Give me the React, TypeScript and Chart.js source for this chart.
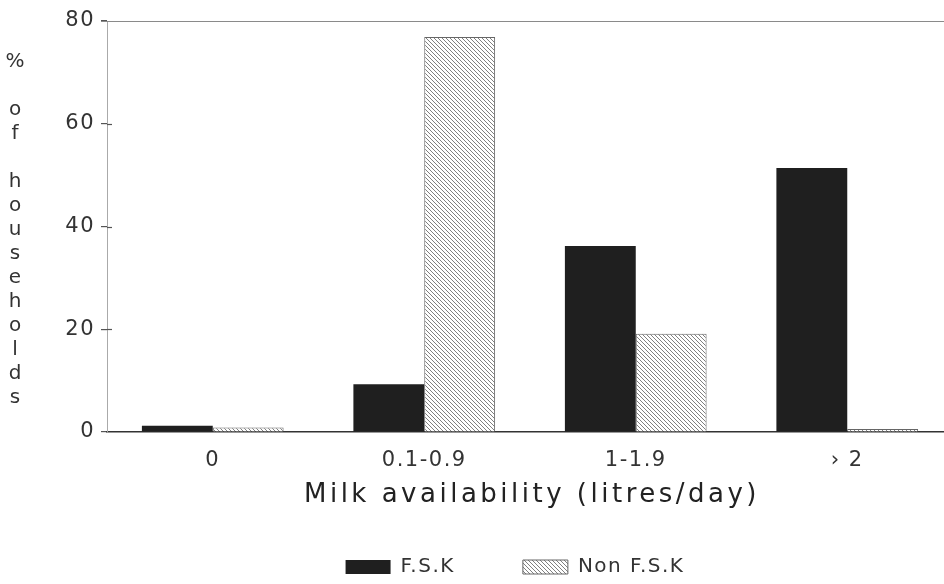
import React, { useEffect, useRef } from 'react';
import { Chart, registerables } from 'chart.js';

Chart.register(...registerables);

// ---- data ----
const categories = ['0', '0.1-0.9', '1-1.9', '\u203A 2'];
const seriesLabels = ['F.S.K', 'Non F.S.K'];
const fskValues = [1.2, 9.3, 36.2, 51.4];
const nonFskValues = [0.9, 76.9, 19.1, 0.6];
const yTickValues = [0, 20, 40, 60, 80];
const xTitle = 'Milk availability (litres/day)';
const yTitleLetters = ['%', '', 'o', 'f', '', 'h', 'o', 'u', 's', 'e', 'h', 'o', 'l', 'd', 's'];

const FONT = "'DejaVu Sans', sans-serif";
const LEGEND_CENTER_X = 515;

function makeHatch(): CanvasPattern | string {
  const c = document.createElement('canvas');
  const n = 4;
  c.width = n;
  c.height = n;
  const g = c.getContext('2d');
  if (!g) return '#ccc';
  g.fillStyle = '#ffffff';
  g.fillRect(0, 0, n, n);
  g.fillStyle = '#808080';
  for (let i = 0; i < n; i++) g.fillRect(i, i, 1, 1);
  const p = g.createPattern(c, 'repeat');
  return p || '#ccc';
}

const spacingPlugin = {
  id: 'spacingPlugin',
  beforeLayout(chart: any) {
    chart.ctx.letterSpacing = '1.5px';
  },
  afterLayout(chart: any) {
    const lg = chart.legend;
    if (lg) {
      const shift = LEGEND_CENTER_X - (lg.left + lg.right) / 2;
      lg.left += shift;
      lg.right += shift;
    }
  },
  beforeDraw(chart: any) {
    chart.ctx.letterSpacing = '1.5px';
  },
};

const decorPlugin = {
  id: 'decorPlugin',
  afterDraw(chart: any) {
    const ctx = chart.ctx as CanvasRenderingContext2D;
    const area = chart.chartArea;
    const ys = chart.scales.y;
    ctx.save();
    // top frame line
    ctx.strokeStyle = '#8a8a8a';
    ctx.lineWidth = 1.2;
    ctx.beginPath();
    ctx.moveTo(area.left - 6, area.top + 0.5);
    ctx.lineTo(area.right, area.top + 0.5);
    ctx.stroke();

    // inner part of y tick marks
    ctx.strokeStyle = '#555';
    ctx.lineWidth = 1.2;
    yTickValues.forEach((v) => {
      if (v === 0 || v === 80) return;
      const y = Math.round(ys.getPixelForValue(v)) + 0.5;
      ctx.beginPath();
      ctx.moveTo(area.left, y);
      ctx.lineTo(area.left + 5, y);
      ctx.stroke();
    });

    // vertical y title (stacked letters)
    ctx.fillStyle = '#333';
    ctx.font = `20px ${FONT}`;
    (ctx as any).letterSpacing = '0px';
    ctx.textAlign = 'center';
    ctx.textBaseline = 'middle';
    yTitleLetters.forEach((ch, i) => {
      if (ch) ctx.fillText(ch, 15, 62 + i * 24);
    });

    // x title
    ctx.font = `26px ${FONT}`;
    (ctx as any).letterSpacing = '3.5px';
    ctx.textAlign = 'center';
    ctx.textBaseline = 'alphabetic';
    ctx.fillStyle = '#222';
    ctx.fillText(xTitle, (area.left + area.right) / 2 + 2, 502);
    ctx.restore();
  },
};

export default function App() {
  const ref = useRef<HTMLCanvasElement | null>(null);

  useEffect(() => {
    if (!ref.current) return;
    const hatch = makeHatch();
    const chart = new Chart(ref.current, {
      type: 'bar',
      data: {
        labels: categories,
        datasets: [
          {
            label: seriesLabels[0],
            data: fskValues,
            backgroundColor: '#1f1f1f',
            borderWidth: 0,
            barPercentage: 1,
            categoryPercentage: 0.67,
          },
          {
            label: seriesLabels[1],
            data: nonFskValues,
            backgroundColor: hatch as any,
            borderColor: '#666',
            borderWidth: 1,
            barPercentage: 1,
            categoryPercentage: 0.67,
          },
        ],
      },
      options: {
        animation: false,
        responsive: false,
        maintainAspectRatio: false,
        layout: { padding: { left: 40, right: 0, top: 21, bottom: 3 } },
        plugins: {
          legend: {
            position: 'bottom',
            labels: {
              boxWidth: 45,
              boxHeight: 14,
              padding: 68,
              color: '#333',
              font: { family: FONT, size: 20 },
            },
          },
          tooltip: { enabled: false },
          title: { display: false },
        },
        scales: {
          x: {
            afterFit: (s: any) => {
              s.height = 57;
            },
            grid: { display: false, drawTicks: false, tickLength: 0 },
            border: { display: true, color: '#333', width: 1.5 },
            ticks: {
              color: '#333',
              padding: 16,
              font: { family: FONT, size: 21 },
            },
          },
          y: {
            min: 0,
            max: 80,
            afterFit: (s: any) => {
              s.width = 67;
            },
            afterBuildTicks: (s: any) => {
              s.ticks = yTickValues.map((v) => ({ value: v }));
            },
            grid: {
              drawOnChartArea: false,
              drawTicks: true,
              tickLength: 6,
              color: '#555',
              lineWidth: 1.2,
            },
            border: { display: true, color: '#aaa', width: 1, dash: [5, 3] },
            ticks: {
              color: '#333',
              padding: 6,
              font: { family: FONT, size: 21 },
            },
          },
        },
      },
      plugins: [spacingPlugin, decorPlugin],
    } as any);
    return () => chart.destroy();
  }, []);

  return (
    <div
      style={{
        position: 'fixed',
        left: 0,
        top: 0,
        width: 944,
        height: 584,
        overflow: 'hidden',
        background: '#fff',
      }}
    >
      <canvas ref={ref} width={953} height={590} style={{ display: 'block', width: 953, height: 590 }} />
    </div>
  );
}
